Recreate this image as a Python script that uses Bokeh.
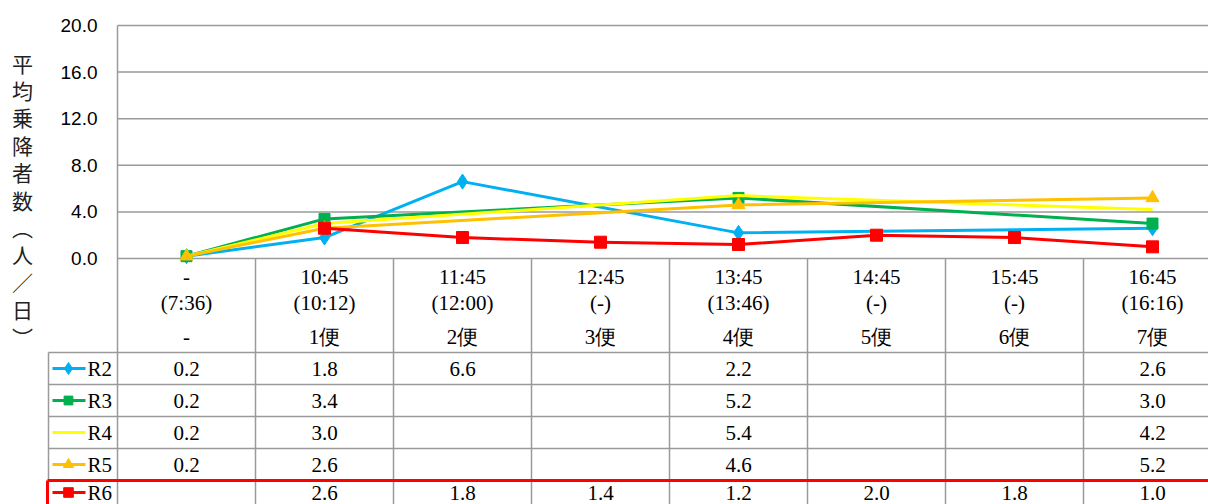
from bokeh.plotting import figure
from bokeh.models import Range1d, ColumnDataSource
from bokeh.core.properties import value
from bokeh.embed import file_html
from bokeh.resources import INLINE

# ---------------- data ----------------
departure = ["-", "10:45", "11:45", "12:45", "13:45", "14:45", "15:45", "16:45"]
actual = ["(7:36)", "(10:12)", "(12:00)", "(-)", "(13:46)", "(-)", "(-)", "(16:16)"]
trips = ["-", "1便", "2便", "3便", "4便", "5便", "6便", "7便"]

series_names = ["R2", "R3", "R4", "R5", "R6"]
r2 = [0.2, 1.8, 6.6, None, 2.2, None, None, 2.6]
r3 = [0.2, 3.4, None, None, 5.2, None, None, 3.0]
r4 = [0.2, 3.0, None, None, 5.4, None, None, 4.2]
r5 = [0.2, 2.6, None, None, 4.6, None, None, 5.2]
r6 = [None, 2.6, 1.8, 1.4, 1.2, 2.0, 1.8, 1.0]
series_values = [r2, r3, r4, r5, r6]

y_ticks = [0, 4, 8, 12, 16, 20]
y_title = "平均乗降者数︵人／日︶"

# ---------------- styles ----------------
colors = ["#00B0F0", "#00B050", "#FFFF00", "#FFC000", "#FF0000"]
markers = ["diamond", "square", None, "triangle", "square"]
marker_sizes = [15, 11, 0, 13, 12]

W, H = 1208, 504
OFF = 0
COL0, COLW = 186, 138          # px of first category centre, column width
TOP, ZERO = 25, 258            # px of y=20 and y=0
YMAX = 20
scale = (ZERO - TOP) / YMAX

x_range = Range1d((OFF - COL0) / COLW, (OFF + W - COL0) / COLW)
y_range = Range1d(-(OFF + H - ZERO) / scale, (ZERO - OFF) / scale)

p = figure(width=W, height=H, x_range=x_range, y_range=y_range,
           output_backend="svg", toolbar_location=None,
           x_axis_location=None, y_axis_location=None, min_border=0)
p.outline_line_color = None
p.grid.visible = False
p.background_fill_color = "white"
p.border_fill_color = "white"
p.extra_x_ranges = {"px": Range1d(OFF, OFF + W)}
p.extra_y_ranges = {"py": Range1d(OFF + H, OFF)}

GRID = "#9a9a9a"
RIGHT = OFF + W
n = len(departure)

# gridlines
p.segment(x0=[117] * len(y_ticks), x1=[RIGHT] * len(y_ticks), y0=y_ticks, y1=y_ticks,
          x_range_name="px", line_color=GRID, line_width=1.5)
# y tick labels
p.text(x=[97] * len(y_ticks), y=y_ticks, text=[f"{t:.1f}" for t in y_ticks],
       x_range_name="px", text_align="right", text_baseline="middle",
       text_font=value("Liberation Sans"), text_font_size="19px", text_color="black")

# y title (vertical, stacked)
chars = list(y_title)
p.text(x=[22] * len(chars), y=[62 + 27.4 * k for k in range(len(chars))], text=chars,
       x_range_name="px", y_range_name="py", text_align="center", text_baseline="middle",
       text_font=value("Noto Sans CJK JP"), text_font_size="21px", text_color="#222222")

# table: vertical lines at column boundaries
bounds = [i - 0.5 for i in range(n + 1)]
p.segment(x0=bounds, x1=bounds, y0=[ZERO] * len(bounds), y1=[OFF + H] * len(bounds),
          y_range_name="py", line_color=GRID, line_width=1.5)
p.segment(x0=[-0.5], x1=[-0.5], y0=[TOP], y1=[ZERO], y_range_name="py",
          line_color=GRID, line_width=1.5)

ROW0, ROWH = 368, 32
hlines = [ROW0 - ROWH / 2 + ROWH * k for k in range(len(series_names) - 1)]
p.segment(x0=[48] * len(hlines), x1=[RIGHT] * len(hlines), y0=hlines, y1=hlines,
          x_range_name="px", y_range_name="py", line_color=GRID, line_width=1.5)
red_top = ROW0 - ROWH / 2 + ROWH * (len(series_names) - 1)
p.segment(x0=[48], x1=[48], y0=[ROW0 - ROWH / 2], y1=[red_top],
          x_range_name="px", y_range_name="py", line_color=GRID, line_width=1.5)

# header text
hdr_font = value("Liberation Serif")
xs = list(range(n))
for lines, yy in ((departure, 276), (actual, 302), (trips, 336)):
    p.text(x=xs, y=[yy] * n, text=lines, y_range_name="py", text_align="center",
           text_baseline="middle", text_font=hdr_font, text_font_size="21px",
           text_color="black")

# series lines + markers
for name, vals, c, m, ms in zip(series_names, series_values, colors, markers, marker_sizes):
    px = [i for i, v in enumerate(vals) if v is not None]
    py = [v for v in vals if v is not None]
    src = ColumnDataSource(dict(x=px, y=py))
    p.line("x", "y", source=src, line_color=c, line_width=3, line_join="round")
    if m:
        p.scatter("x", "y", source=src, marker=m, size=ms, fill_color=c, line_color=c)

# table rows: legend key + values (last row nudged up so it stays inside the page)
for k, (name, vals, c, m, ms) in enumerate(zip(series_names, series_values, colors, markers, marker_sizes)):
    yy = ROW0 + ROWH * k
    if k == len(series_names) - 1:
        yy = min(yy, OFF + H - 12)
    p.segment(x0=[52], x1=[85], y0=[yy], y1=[yy], x_range_name="px", y_range_name="py",
              line_color=c, line_width=3)
    if m:
        p.scatter(x=[68], y=[yy], x_range_name="px", y_range_name="py", marker=m,
                  size=ms * 0.8, fill_color=c, line_color=c)
    p.text(x=[87], y=[yy], text=[name], x_range_name="px", y_range_name="py",
           text_align="left", text_baseline="middle", text_font=hdr_font,
           text_font_size="21px", text_color="black")
    vx = [i for i, v in enumerate(vals) if v is not None]
    vt = [f"{v:.1f}" for v in vals if v is not None]
    p.text(x=vx, y=[yy] * len(vx), text=vt, y_range_name="py", text_align="center",
           text_baseline="middle", text_font=hdr_font, text_font_size="21px",
           text_color="black")

# red frame around R6 row
p.segment(x0=[47], x1=[RIGHT], y0=[red_top], y1=[red_top], x_range_name="px",
          y_range_name="py", line_color="#FF0000", line_width=3)
p.segment(x0=[47], x1=[47], y0=[red_top], y1=[OFF + H], x_range_name="px",
          y_range_name="py", line_color="#FF0000", line_width=3)

open("out.html", "w").write(file_html(p, INLINE))
